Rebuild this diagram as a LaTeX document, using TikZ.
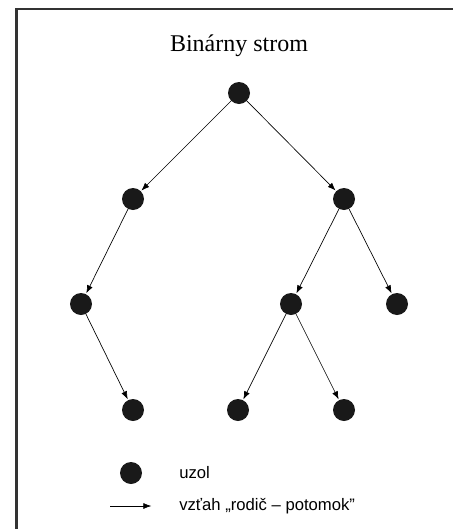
\documentclass[tikz,border=0pt]{standalone}
\usepackage{fontspec}
\setmainfont{Liberation Serif}
\setsansfont{Liberation Sans}
\usetikzlibrary{arrows.meta}
\begin{document}
\begin{tikzpicture}[x=0.75pt,y=-0.75pt,
  dot/.style={circle,fill=black!90,inner sep=0pt,minimum size=16.5pt},
  edge/.style={-{Latex[length=6pt,width=4.5pt]},line width=0.5pt,shorten >=0.5pt},
  lbl/.style={font=\sffamily\fontsize{12.5}{15}\selectfont,anchor=west,inner sep=0pt}]
\useasboundingbox (0,0) rectangle (453,529);
\draw[line width=2.2pt,black!80] (16.5,529) -- (16.5,9) -- (453,9);
\node[font=\fontsize{18}{21}\selectfont] (title) at (239,46) {Binárny strom};
\node[dot] (r) at (239,93) {};
\node[dot] (a) at (133,199) {};
\node[dot] (b) at (344,199) {};
\node[dot] (c) at (81,304) {};
\node[dot] (d) at (291,304) {};
\node[dot] (e) at (397,304) {};
\node[dot] (f) at (133,410) {};
\node[dot] (g) at (238,410) {};
\node[dot] (h) at (344,410) {};
\draw[edge] (r) -- (a);
\draw[edge] (r) -- (b);
\draw[edge] (a) -- (c);
\draw[edge] (b) -- (d);
\draw[edge] (b) -- (e);
\draw[edge] (c) -- (f);
\draw[edge] (d) -- (g);
\draw[edge] (d) -- (h);
\node[dot] (ld) at (131,473) {};
\node[lbl] (lt1) at (179,473) {uzol};
\coordinate (la) at (110,506);
\coordinate (lb) at (152,506);
\draw[edge] (la) -- (lb);
\node[lbl] (lt2) at (179,506) {vzťah „rodič – potomok”};
\end{tikzpicture}
\end{document}
